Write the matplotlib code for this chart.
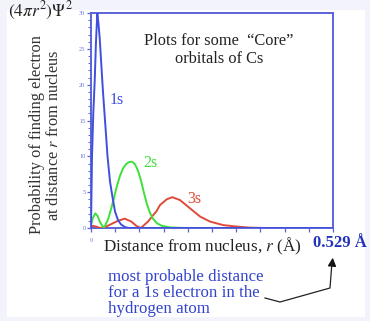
import matplotlib
matplotlib.use("Agg")
import matplotlib.pyplot as plt
from matplotlib.lines import Line2D
from matplotlib.patches import Rectangle, FancyArrowPatch
from matplotlib.ticker import MultipleLocator, FixedLocator

plt.rcParams['font.family'] = ['Liberation Serif', 'DejaVu Serif']
plt.rcParams['mathtext.fontset'] = 'stix'

# ───────── data (r in Å, radial probability) ─────────
r_1s = [0.0, 0.0022, 0.005, 0.0081, 0.0109, 0.0138, 0.0164, 0.019, 0.0262,
        0.0334, 0.0361, 0.0415, 0.047, 0.0525, 0.059, 0.0656, 0.0743, 0.083,
        0.10, 0.20, 0.30, 0.40, 0.529]
p_1s = [0.0, 10.0, 16.0, 20.5, 26.0, 30.0, 28.5, 26.5, 19.0,
        12.5, 10.0, 6.5, 4.3, 2.3, 1.1, 0.5, 0.12, 0.0,
        0.0, 0.0, 0.0, 0.0, 0.0]

r_2s = [0.0, 0.0033, 0.0094, 0.0142, 0.0197, 0.0273, 0.0306, 0.0372, 0.0437,
        0.0503, 0.0568, 0.0634, 0.0699, 0.0765, 0.0831, 0.0896, 0.0962, 0.1027,
        0.1093, 0.1158, 0.1224, 0.129, 0.1355, 0.1443, 0.1552, 0.1727, 0.2055,
        0.267]
p_2s = [0.3, 1.3, 2.05, 1.7, 0.8, 0.05, 0.3, 1.2, 2.6,
        4.2, 5.9, 7.3, 8.3, 8.9, 9.2, 9.25, 8.9, 8.0,
        6.6, 4.9, 3.3, 2.1, 1.3, 0.65, 0.3, 0.08, 0.0,
        0.0]

r_3s = [0.0, 0.0044, 0.0109, 0.0175, 0.024, 0.0328, 0.0444, 0.059, 0.0737,
        0.0881, 0.099, 0.109, 0.1246, 0.136, 0.1427, 0.1508, 0.1655, 0.1777,
        0.1945, 0.2164, 0.2383, 0.2601, 0.2892, 0.3185, 0.3475, 0.380, 0.424]
p_3s = [0.15, 0.3, 0.2, 0.05, 0.0, 0.2, 0.55, 1.0, 1.3,
        0.9, 0.3, 0.0, 0.9, 1.8, 2.3, 3.2, 4.0, 4.3,
        3.9, 2.75, 1.6, 0.9, 0.4, 0.2, 0.05, 0.0, 0.0]

x_ticks = [0.0529 * i for i in range(11)]
y_ticks = [0, 5, 10, 15, 20, 25, 30]

blue = '#3f4fe0'
green = '#3ee03a'
red = '#e04a3a'
axis_col = '#5a64d8'

fig = plt.figure(figsize=(3.70, 3.21), dpi=100)
fig.patch.set_facecolor('#f3f3fb')
fig.patches.append(Rectangle((7 / 370, 1 - 317 / 321), 358 / 370, 307 / 321,
                             transform=fig.transFigure, facecolor='white',
                             edgecolor='none', zorder=-5))

ax = fig.add_axes([91 / 370, 93 / 321, 242 / 370, 215 / 321])
ax.set_facecolor('white')

ax.plot(r_3s, p_3s, color=red, lw=1.4, zorder=3)
ax.plot(r_2s, p_2s, color=green, lw=1.4, zorder=4)
ax.plot(r_1s, p_1s, color=blue, lw=1.4, zorder=5)

ax.set_xlim(0, 0.529)
ax.set_ylim(0, 30)

for s in ax.spines.values():
    s.set_color(axis_col)
    s.set_linewidth(1.4)

ax.xaxis.set_major_locator(FixedLocator(x_ticks))
ax.set_xticklabels(['0'] + [''] * 10)
ax.yaxis.set_major_locator(FixedLocator(y_ticks))
ax.yaxis.set_minor_locator(MultipleLocator(1))
ax.tick_params(axis='both', which='major', direction='out', length=3,
               width=0.9, color=axis_col, labelcolor='#6a74d4', labelsize=4.5, pad=1)
ax.tick_params(axis='x', which='major', pad=4)
ax.tick_params(axis='y', which='minor', direction='out', length=2,
               width=0.7, color=axis_col)

# curve labels
ax.text(0.057, 17.9, '1s', color=blue, fontsize=11.5, ha='center', va='center')
ax.text(0.129, 9.1, '2s', color=green, fontsize=11.5, ha='center', va='center')
ax.text(0.226, 4.0, '3s', color=red, fontsize=11.5, ha='center', va='center')

ax.text(0.28, 24.8, 'Plots for some  \u201cCore\u201d\norbitals of Cs',
        fontsize=11.8, ha='center', va='center', color='#222222', linespacing=1.15)

# figure-level text
fig.text(37 / 370, 1 - 135 / 321, 'Probability of finding electron',
         rotation=90, ha='center', va='center', fontsize=11.8, color='#333333')
fig.text(54 / 370, 1 - 135 / 321, 'at distance $\\it{r}$ from nucleus',
         rotation=90, ha='center', va='center', fontsize=11.8, color='#333333')
fig.text(40 / 370, 1 - 11 / 321, r'$(4\pi r^2)\Psi^2$', ha='center', va='center',
         fontsize=12.5, color='#222222')
fig.text(202 / 370, 1 - 246 / 321, 'Distance from nucleus, $\\it{r}$ (\u00c5)',
         ha='center', va='center', fontsize=12.3, color='#222222')
fig.text(340 / 370, 1 - 243 / 321, '0.529 \u00c5', ha='center', va='center',
         fontsize=12, fontweight='bold', color='#2233bb')
fig.text(108 / 370, 1 - 293 / 321,
         'most probable distance\nfor a 1s electron in the\nhydrogen atom',
         ha='left', va='center', fontsize=12.2, color='#3344cc', linespacing=1.03)

# arrow from note to the 0.529 label
px = [265, 280, 330, 332]
py = [298, 302, 288, 262]
fig.lines.append(Line2D([p / 370 for p in px], [1 - p / 321 for p in py],
                        transform=fig.transFigure, color='#222222', lw=0.9))
fig.patches.append(FancyArrowPatch(
    (332 / 370, 1 - 266 / 321), (333 / 370, 1 - 255 / 321),
    transform=fig.transFigure, arrowstyle='-|>,head_length=5,head_width=2.5',
    color='#111111', lw=0.9, mutation_scale=1))

fig.savefig('out.png', dpi=100, facecolor=fig.get_facecolor())
